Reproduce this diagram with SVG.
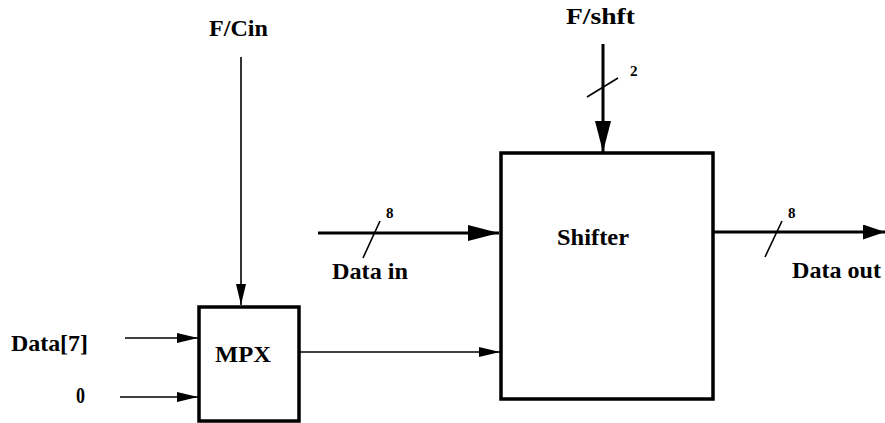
<svg xmlns="http://www.w3.org/2000/svg" width="885" height="423" viewBox="0 0 885 423">
<style>
text{font-family:"Liberation Serif","Times New Roman",serif;font-weight:bold;fill:#000}
.lbl{font-size:23.5px}
.bus{font-size:15px}
.box{fill:#fff;stroke:#000;stroke-width:3.5}
.thin{stroke:#000;stroke-width:1.6;fill:none}
.thick{stroke:#000;stroke-width:3;fill:none}
.tick{stroke:#000;stroke-width:1.6}
</style>
<defs>
<marker id="aThin" markerUnits="userSpaceOnUse" markerWidth="22" markerHeight="11" refX="21" refY="5" orient="auto" viewBox="0 0 22 11"><path d="M0,0 L21,5 L0,10 z" fill="#000"/></marker>
<marker id="aBig" markerUnits="userSpaceOnUse" markerWidth="32" markerHeight="17" refX="31" refY="8" orient="auto" viewBox="0 0 32 17"><path d="M0,0 L31,8 L0,16 z" fill="#000"/></marker>
<marker id="aMid" markerUnits="userSpaceOnUse" markerWidth="23" markerHeight="16" refX="22" refY="7.5" orient="auto" viewBox="0 0 23 16"><path d="M0,0 L22,7.5 L0,15 z" fill="#000"/></marker>
</defs>
<g id="connectors">
<line class="thin" x1="241" y1="57" x2="241" y2="305" marker-end="url(#aThin)"/>
<line class="thick" x1="603" y1="44" x2="603" y2="152" marker-end="url(#aBig)"/>
<line class="tick" x1="587" y1="97" x2="618" y2="78"/>
<line class="thick" x1="318" y1="233" x2="499" y2="233" marker-end="url(#aBig)"/>
<line class="tick" x1="363" y1="258" x2="380" y2="221"/>
<line class="thick" x1="713" y1="232" x2="885" y2="232" marker-end="url(#aMid)"/>
<line class="tick" x1="765" y1="257" x2="782" y2="221"/>
<line class="thin" x1="125" y1="338" x2="198" y2="338" marker-end="url(#aThin)"/>
<line class="thin" x1="120" y1="397" x2="198" y2="397" marker-end="url(#aThin)"/>
<line class="thin" x1="299" y1="352" x2="500" y2="352" marker-end="url(#aThin)"/>
<text class="bus" x="630" y="76">2</text>
<text class="bus" x="386" y="218">8</text>
<text class="bus" x="788" y="218">8</text>
</g>
<g id="mpx">
<rect class="box" x="199" y="307" width="100" height="114"/>
<text class="lbl" x="215" y="362" textLength="56" lengthAdjust="spacingAndGlyphs">MPX</text>
</g>
<g id="shifter">
<rect class="box" x="501" y="153" width="212" height="246"/>
<text class="lbl" x="557" y="245" textLength="72" lengthAdjust="spacingAndGlyphs">Shifter</text>
</g>
<g id="fcin"><text class="lbl" x="209" y="36" textLength="59" lengthAdjust="spacingAndGlyphs">F/Cin</text></g>
<g id="fshft"><text class="lbl" x="566" y="24" textLength="69" lengthAdjust="spacingAndGlyphs">F/shft</text></g>
<g id="datain"><text class="lbl" x="332" y="279" textLength="76" lengthAdjust="spacingAndGlyphs">Data in</text></g>
<g id="dataout"><text class="lbl" x="792" y="278" textLength="89" lengthAdjust="spacingAndGlyphs">Data out</text></g>
<g id="data7"><text class="lbl" x="11" y="351" textLength="77" lengthAdjust="spacingAndGlyphs">Data[7]</text></g>
<g id="zero"><text class="lbl" x="76" y="403" textLength="9" lengthAdjust="spacingAndGlyphs">0</text></g>
</svg>
